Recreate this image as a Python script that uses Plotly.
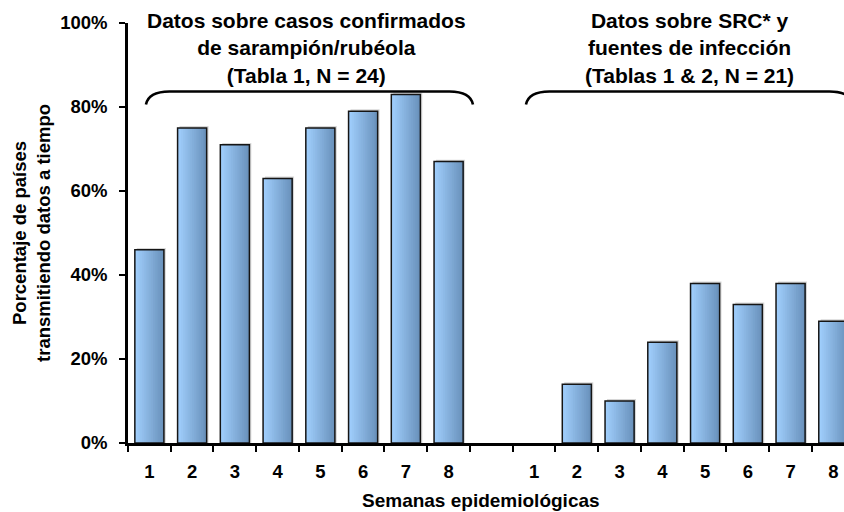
import plotly.graph_objects as go

# ---------------- data ----------------
weeks = ['1', '2', '3', '4', '5', '6', '7', '8']
group1_values = [46, 75, 71, 63, 75, 79, 83, 67]   # Tabla 1, N = 24
group2_values = [0, 14, 10, 24, 38, 33, 38, 29]    # Tablas 1 & 2, N = 21
y_tick_values = [0, 20, 40, 60, 80, 100]
y_tick_labels = ['0%', '20%', '40%', '60%', '80%', '100%']
group1_title = 'Datos sobre casos confirmados<br>de sarampión/rubéola<br>(Tabla 1, N = 24)'
group2_title = 'Datos sobre SRC* y<br>fuentes de infección<br>(Tablas 1 & 2, N = 21)'
x_title = 'Semanas epidemiológicas'
y_title = 'Porcentaje de países<br>transmitiendo datos a tiempo'

# positions: group 1 at 0..7, empty slot at 8, group 2 at 9..16
x1 = list(range(len(weeks)))
x2 = [len(weeks) + 1 + i for i in range(len(weeks))]
xs = x1 + x2
ys = group1_values + group2_values
ticktext = weeks + weeks

FONT = 'Liberation Sans, Arial, sans-serif'
bw = 0.68
n_slices = 16
sw = bw / n_slices
c_left = (160, 206, 252)
c_right = (106, 146, 188)

fig = go.Figure()

# subtle shadow
fig.add_trace(go.Bar(
    x=xs, y=[v + 0.45 if v > 0 else 0 for v in ys], width=bw, offset=-bw / 2 + 0.045,
    marker=dict(color='rgba(0,0,0,0.16)', line=dict(width=0)),
    hoverinfo='skip', showlegend=False))

# gradient slices
for i in range(n_slices):
    t = i / (n_slices - 1)
    c = tuple(round(c_left[k] + (c_right[k] - c_left[k]) * t) for k in range(3))
    fig.add_trace(go.Bar(
        x=xs, y=ys, width=bw - i * sw, offset=-bw / 2 + i * sw,
        marker=dict(color='rgb(%d,%d,%d)' % c, line=dict(width=0)),
        hoverinfo='skip', showlegend=False))

# outline
fig.add_trace(go.Bar(
    x=xs, y=ys, width=bw, offset=-bw / 2,
    marker=dict(color='rgba(0,0,0,0)',
                line=dict(color='#151515', width=[1.5 if v > 0 else 0 for v in ys])),
    showlegend=False))

# braces
def brace(x0, x1, ylow, ytop, dx):
    return ('M %f,%f Q %f,%f %f,%f L %f,%f Q %f,%f %f,%f' %
            (x0, ylow, x0 + 0.06, ytop, x0 + dx, ytop, x1 - dx, ytop, x1 - 0.06, ytop, x1, ylow))

fig.add_shape(type='path', xref='x', yref='y', path=brace(-0.08, 7.57, 80.6, 83.7, 0.55),
              line=dict(color='black', width=2.6))
fig.add_shape(type='path', xref='x', yref='y', path=brace(8.81, 16.46, 80.6, 83.7, 0.55),
              line=dict(color='black', width=2.6))

fig.add_annotation(x=3.68, y=94, xref='x', yref='y', text='<b>' + group1_title + '</b>',
                   showarrow=False, xanchor='center', yanchor='middle',
                   font=dict(family=FONT, size=21, color='black'))
fig.add_annotation(x=12.63, y=94, xref='x', yref='y', text='<b>' + group2_title + '</b>',
                   showarrow=False, xanchor='center', yanchor='middle',
                   font=dict(family=FONT, size=21, color='black'))

fig.add_annotation(x=7.75, y=-0.136, xref='x', yref='paper', text='<b>' + x_title + '</b>',
                   showarrow=False, xanchor='center', yanchor='middle',
                   font=dict(family=FONT, size=19, color='black'))
fig.add_annotation(x=-0.1355, y=0.5, xref='paper', yref='paper', text='<b>' + y_title + '</b>',
                   showarrow=False, xanchor='center', yanchor='middle', textangle=-90,
                   font=dict(family=FONT, size=18.5, color='black'))

fig.update_layout(
    width=844, height=512,
    margin=dict(l=128, r=0, t=23, b=69),
    paper_bgcolor='white', plot_bgcolor='white',
    barmode='overlay',
    showlegend=False,
    xaxis=dict(
        range=[-0.5, 16.25],
        tickmode='array', tickvals=xs, ticktext=ticktext,
        ticks='', showgrid=False, zeroline=False,
        showline=True, linecolor='black', linewidth=2.5,
        tickfont=dict(family=FONT, size=18.5, color='black', weight='bold'),
        ticklabelstandoff=10,
        minor=dict(tickmode='array', tickvals=[i - 0.5 for i in range(18)],
                   ticks='outside', ticklen=6, tickwidth=2, tickcolor='black', showgrid=False),
    ),
    yaxis=dict(
        range=[0, 100],
        tickmode='array', tickvals=y_tick_values, ticktext=y_tick_labels,
        ticks='outside', ticklen=6, tickwidth=2, tickcolor='black',
        showgrid=False, zeroline=False,
        showline=True, linecolor='black', linewidth=2.5,
        tickfont=dict(family=FONT, size=18.5, color='black', weight='bold'),
        ticklabelstandoff=8,
    ),
)

fig.write_html('out.html', config={'displayModeBar': False},
               post_script="document.body.style.margin='0';")
